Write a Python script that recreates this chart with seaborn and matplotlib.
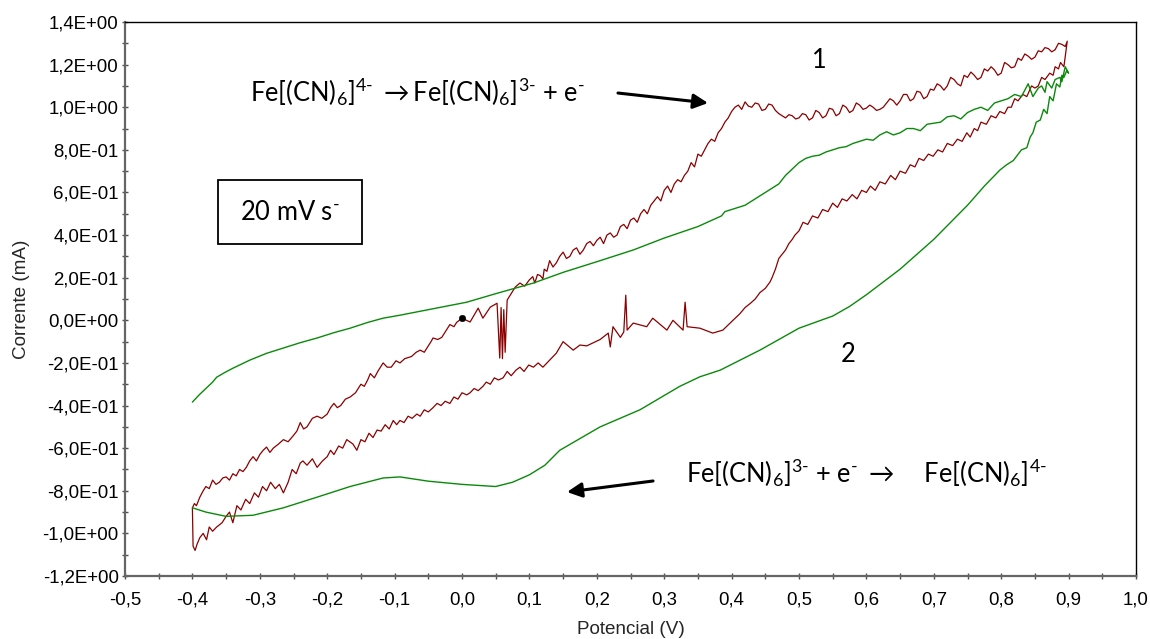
import matplotlib
matplotlib.use("Agg")
import matplotlib.pyplot as plt
import seaborn as sns
import pandas as pd
from matplotlib.ticker import FixedLocator, FuncFormatter
from matplotlib.patches import Rectangle

# ---------------- data ----------------
# curve 1 (red): starts at the black dot, forward scan to 0.9 V, back to -0.4 V, forward to 0 V
red_v = [0.000, 0.012, 0.024, 0.031, 0.042, 0.052, 0.056, 0.058, 0.060, 0.062, 0.064, 0.067,
         0.079, 0.086, 0.093,
         0.100, 0.105, 0.108, 0.112, 0.116, 0.120, 0.122, 0.126, 0.130, 0.135, 0.140, 0.145,
         0.150, 0.155, 0.160, 0.165, 0.170, 0.175, 0.180, 0.185, 0.190, 0.195, 0.200, 0.205,
         0.210, 0.215, 0.220, 0.225, 0.230, 0.235, 0.240, 0.245, 0.250, 0.255, 0.260, 0.265,
         0.270, 0.275, 0.280, 0.285, 0.290, 0.295, 0.300, 0.305, 0.310, 0.315, 0.320, 0.325,
         0.330, 0.335, 0.340, 0.345, 0.350, 0.355, 0.360, 0.365, 0.370, 0.375, 0.380, 0.385,
         0.390, 0.395, 0.400, 0.405, 0.410, 0.415, 0.420, 0.425, 0.430, 0.435, 0.440, 0.445,
         0.450, 0.455, 0.460, 0.465, 0.470, 0.475, 0.480, 0.485, 0.490, 0.495, 0.500, 0.505,
         0.510, 0.515, 0.520, 0.525, 0.530, 0.535, 0.540, 0.545, 0.550, 0.555, 0.560, 0.565,
         0.570, 0.575, 0.580, 0.585, 0.590, 0.595, 0.600, 0.605, 0.610, 0.615, 0.620, 0.625,
         0.630, 0.635, 0.640, 0.645, 0.650, 0.655, 0.660, 0.665, 0.670, 0.675, 0.680, 0.685,
         0.690, 0.695, 0.700, 0.705, 0.710, 0.715, 0.720, 0.725, 0.730, 0.735, 0.740, 0.745,
         0.750, 0.755, 0.760, 0.765, 0.770, 0.775, 0.780, 0.785, 0.790, 0.795, 0.800, 0.805,
         0.810, 0.815, 0.820, 0.825, 0.830, 0.835, 0.840, 0.845, 0.850, 0.855, 0.860, 0.865,
         0.870, 0.875, 0.880, 0.885, 0.890, 0.895, 0.898,
         0.893, 0.888, 0.885, 0.880, 0.877, 0.872, 0.865, 0.860, 0.855, 0.850, 0.845, 0.838,
         0.832, 0.825, 0.820, 0.815, 0.810, 0.805, 0.798, 0.792, 0.785, 0.778, 0.770, 0.765,
         0.760, 0.754, 0.749, 0.742, 0.735, 0.728, 0.720, 0.713, 0.706, 0.699, 0.692, 0.685,
         0.678, 0.672, 0.665, 0.658, 0.650, 0.643, 0.636, 0.628, 0.620, 0.613, 0.606, 0.600,
         0.593, 0.586, 0.579, 0.571, 0.564, 0.557, 0.550, 0.543, 0.535, 0.528, 0.520, 0.513,
         0.506, 0.500, 0.494, 0.490, 0.485, 0.480, 0.475, 0.470, 0.465, 0.460, 0.457, 0.450,
         0.442, 0.435, 0.428, 0.420, 0.412, 0.402,
         0.387, 0.372, 0.353, 0.334, 0.331, 0.328, 0.313, 0.304, 0.283, 0.274, 0.254, 0.245,
         0.243, 0.240, 0.235, 0.224, 0.220, 0.217, 0.205, 0.185, 0.175, 0.165, 0.150, 0.140,
         0.120, 0.113, 0.106, 0.099, 0.092, 0.086, 0.080, 0.073, 0.067, 0.061, 0.054, 0.048,
         0.042, 0.036, 0.031, 0.024, 0.018, 0.012, 0.007, 0.000, -0.006, -0.012, -0.018,
         -0.025, -0.031, -0.037, -0.043, -0.050, -0.056, -0.062, -0.067, -0.074, -0.080,
         -0.086, -0.092, -0.097, -0.102, -0.108, -0.114, -0.120, -0.126, -0.132, -0.138,
         -0.144, -0.150, -0.156, -0.162, -0.171, -0.177, -0.183, -0.190, -0.195, -0.200,
         -0.207, -0.215, -0.222, -0.230, -0.236, -0.240, -0.246, -0.252, -0.258, -0.265,
         -0.271, -0.277, -0.284, -0.290, -0.296, -0.302, -0.308, -0.315, -0.321, -0.328,
         -0.334, -0.340, -0.345, -0.350, -0.356, -0.364, -0.370, -0.375, -0.379, -0.384,
         -0.389, -0.393, -0.396, -0.399,
         -0.400, -0.397, -0.394, -0.389, -0.384, -0.380, -0.375, -0.370, -0.365, -0.360,
         -0.355, -0.350, -0.345, -0.340, -0.335, -0.330, -0.325, -0.320, -0.315, -0.310,
         -0.305, -0.300, -0.295, -0.290, -0.285, -0.280, -0.272, -0.265, -0.258, -0.250,
         -0.245, -0.240, -0.235, -0.230, -0.222, -0.215, -0.208, -0.200, -0.195, -0.190,
         -0.185, -0.180, -0.173, -0.166, -0.158, -0.150, -0.145, -0.140, -0.136, -0.130,
         -0.125, -0.121, -0.117, -0.111, -0.105, -0.098, -0.092, -0.085, -0.075, -0.068,
         -0.062, -0.056, -0.050, -0.046, -0.043, -0.036, -0.030, -0.024, -0.018, -0.012,
         -0.008, 0.000]
red_i = [0.010, -0.008, 0.057, 0.010, 0.062, 0.080, -0.177, 0.060, -0.180, 0.050, -0.150, 0.095,
         0.156, 0.175, 0.160,
         0.190, 0.205, 0.175, 0.215, 0.210, 0.195, 0.240, 0.230, 0.280, 0.250, 0.270, 0.300,
         0.320, 0.290, 0.300, 0.330, 0.340, 0.310, 0.330, 0.360, 0.370, 0.350, 0.375, 0.390,
         0.360, 0.400, 0.410, 0.390, 0.400, 0.440, 0.450, 0.430, 0.470, 0.480, 0.460, 0.500,
         0.520, 0.500, 0.540, 0.560, 0.580, 0.560, 0.610, 0.630, 0.600, 0.640, 0.660, 0.650,
         0.680, 0.700, 0.740, 0.720, 0.780, 0.770, 0.800, 0.830, 0.850, 0.840, 0.880, 0.900,
         0.930, 0.950, 0.980, 1.000, 1.010, 0.990, 1.025, 1.005, 1.000, 1.020, 1.015, 0.985,
         0.990, 1.015, 1.010, 0.985, 0.970, 0.960, 0.950, 0.965, 0.960, 0.945, 0.950, 0.970,
         0.965, 0.940, 0.950, 0.985, 0.975, 0.950, 0.960, 0.995, 0.990, 0.960, 0.970, 1.010,
         1.000, 0.975, 0.985, 1.020, 1.010, 0.990, 0.996, 1.010, 1.000, 0.985, 0.990, 1.000,
         1.020, 1.040, 1.030, 1.010, 1.030, 1.060, 1.060, 1.030, 1.040, 1.075, 1.070, 1.040,
         1.050, 1.085, 1.080, 1.110, 1.100, 1.080, 1.100, 1.140, 1.130, 1.110, 1.100, 1.150,
         1.140, 1.165, 1.150, 1.130, 1.140, 1.180, 1.170, 1.190, 1.175, 1.150, 1.160, 1.210,
         1.200, 1.185, 1.190, 1.230, 1.220, 1.250, 1.240, 1.225, 1.235, 1.265, 1.260, 1.280,
         1.275, 1.260, 1.270, 1.300, 1.295, 1.285, 1.310,
         1.190, 1.210, 1.180, 1.190, 1.150, 1.160, 1.130, 1.140, 1.100, 1.090, 1.100, 1.050,
         1.060, 1.030, 1.040, 1.000, 1.000, 0.970, 0.980, 0.950, 0.960, 0.920, 0.930, 0.890,
         0.900, 0.860, 0.880, 0.840, 0.850, 0.820, 0.830, 0.790, 0.800, 0.770, 0.780, 0.750,
         0.760, 0.720, 0.730, 0.690, 0.700, 0.660, 0.680, 0.640, 0.650, 0.610, 0.630, 0.600,
         0.610, 0.570, 0.590, 0.560, 0.570, 0.530, 0.550, 0.510, 0.520, 0.480, 0.490, 0.450,
         0.460, 0.420, 0.400, 0.380, 0.360, 0.330, 0.310, 0.290, 0.240, 0.200, 0.180, 0.150,
         0.130, 0.100, 0.080, 0.060, 0.030, 0.000,
         -0.046, -0.060, -0.037, -0.030, 0.085, -0.046, 0.000, -0.046, 0.010, -0.030, -0.013, -0.046,
         0.118, -0.055, -0.080, -0.030, -0.125, -0.060, -0.090, -0.120, -0.116, -0.140, -0.100, -0.154,
         -0.220, -0.200, -0.220, -0.210, -0.240, -0.220, -0.234, -0.260, -0.240, -0.270, -0.280, -0.270,
         -0.300, -0.290, -0.310, -0.330, -0.320, -0.340, -0.350, -0.340, -0.370, -0.360, -0.390,
         -0.380, -0.400, -0.390, -0.410, -0.430, -0.420, -0.450, -0.440, -0.460, -0.450,
         -0.480, -0.470, -0.490, -0.470, -0.510, -0.490, -0.520, -0.515, -0.550, -0.530,
         -0.570, -0.560, -0.610, -0.580, -0.560, -0.600, -0.590, -0.630, -0.610, -0.640,
         -0.660, -0.690, -0.650, -0.680, -0.660, -0.670, -0.720, -0.700, -0.760, -0.810,
         -0.770, -0.790, -0.760, -0.800, -0.780, -0.830, -0.810, -0.860, -0.840, -0.890,
         -0.870, -0.950, -0.900, -0.920, -0.950, -0.970, -0.990, -0.970, -1.030, -1.000,
         -1.020, -1.050, -1.080, -1.060,
         -0.880, -0.860, -0.870, -0.830, -0.800, -0.780, -0.790, -0.750, -0.770, -0.760,
         -0.740, -0.735, -0.750, -0.720, -0.730, -0.700, -0.710, -0.690, -0.660, -0.640,
         -0.660, -0.630, -0.610, -0.595, -0.620, -0.600, -0.580, -0.560, -0.570, -0.540,
         -0.520, -0.480, -0.510, -0.500, -0.460, -0.450, -0.460, -0.440, -0.410, -0.390,
         -0.410, -0.400, -0.370, -0.360, -0.340, -0.300, -0.310, -0.280, -0.250, -0.270,
         -0.240, -0.220, -0.200, -0.220, -0.220, -0.190, -0.200, -0.180, -0.170, -0.150,
         -0.140, -0.150, -0.120, -0.100, -0.083, -0.090, -0.080, -0.050, -0.020, -0.030,
         -0.010, 0.010]

# curve 2 (green): forward scan from -0.4 V to 0.9 V, then back to -0.4 V
green_v = [-0.400, -0.390, -0.380, -0.370, -0.364, -0.352, -0.340, -0.315, -0.290, -0.265,
           -0.240, -0.215, -0.190, -0.166, -0.140, -0.117, -0.092, -0.050, 0.007, 0.050,
           0.106, 0.150, 0.205, 0.254, 0.300, 0.350, 0.385, 0.390, 0.420, 0.450, 0.470, 0.480,
           0.500, 0.510, 0.520, 0.530, 0.540, 0.550, 0.560, 0.570, 0.580, 0.590, 0.600, 0.610,
           0.620, 0.630, 0.640, 0.650, 0.660, 0.670, 0.680, 0.690, 0.700, 0.710, 0.720, 0.730,
           0.740, 0.750, 0.760, 0.770, 0.780, 0.790, 0.800, 0.810, 0.820, 0.830, 0.840, 0.847,
           0.855, 0.860, 0.865, 0.868, 0.875, 0.880, 0.887, 0.890, 0.895, 0.900,
           0.897, 0.893, 0.890, 0.887, 0.882, 0.877, 0.872, 0.868, 0.863, 0.858, 0.852, 0.847,
           0.843, 0.838, 0.830, 0.818, 0.808, 0.798, 0.775, 0.750, 0.725, 0.700, 0.675, 0.650,
           0.625, 0.600, 0.575, 0.550, 0.500, 0.442, 0.383, 0.353, 0.323, 0.264, 0.205, 0.145,
           0.123, 0.100, 0.075, 0.050, 0.025, 0.000, -0.050, -0.092, -0.117, -0.166, -0.215,
           -0.265, -0.310, -0.350, -0.380, -0.400]
green_i = [-0.384, -0.350, -0.320, -0.290, -0.267, -0.245, -0.225, -0.187, -0.155, -0.130,
           -0.105, -0.083, -0.058, -0.037, -0.010, 0.010, 0.024, 0.050, 0.085, 0.125,
           0.175, 0.225, 0.280, 0.330, 0.386, 0.440, 0.490, 0.510, 0.540, 0.600, 0.640, 0.680,
           0.740, 0.760, 0.770, 0.775, 0.790, 0.800, 0.810, 0.815, 0.830, 0.840, 0.850, 0.845,
           0.870, 0.885, 0.870, 0.880, 0.900, 0.900, 0.890, 0.920, 0.925, 0.930, 0.955, 0.960,
           0.945, 0.975, 0.990, 1.000, 0.985, 1.020, 1.030, 1.040, 1.060, 1.050, 1.110, 1.050,
           1.090, 1.100, 1.070, 1.120, 1.090, 1.130, 1.140, 1.120, 1.190, 1.160,
           1.170, 1.140, 1.150, 1.095, 1.110, 1.030, 1.050, 0.970, 0.990, 0.940, 0.930, 0.880,
           0.860, 0.810, 0.800, 0.750, 0.730, 0.705, 0.630, 0.540, 0.460, 0.380, 0.310, 0.240,
           0.180, 0.120, 0.065, 0.020, -0.037, -0.140, -0.234, -0.265, -0.310, -0.420, -0.500, -0.610,
           -0.680, -0.725, -0.760, -0.780, -0.775, -0.770, -0.755, -0.735, -0.740, -0.780, -0.830,
           -0.880, -0.915, -0.920, -0.900, -0.880]

start_v = [0.0]
start_i = [0.01]

x_ticks = [-0.5, -0.4, -0.3, -0.2, -0.1, 0.0, 0.1, 0.2, 0.3, 0.4, 0.5, 0.6, 0.7, 0.8, 0.9, 1.0]
y_ticks = [-1.2, -1.0, -0.8, -0.6, -0.4, -0.2, 0.0, 0.2, 0.4, 0.6, 0.8, 1.0, 1.2, 1.4]

label_up = r"Fe[(CN)$_6$]$^{4\text{-}}$ $\rightarrow$Fe[(CN)$_6$]$^{3\text{-}}$ + e$^{\text{-}}$"
label_down = r"Fe[(CN)$_6$]$^{3\text{-}}$ + e$^{\text{-}}$ $\rightarrow$    Fe[(CN)$_6$]$^{4\text{-}}$"
label_rate = r"20 mV s$^{\text{-}}$"

# ---------------- style ----------------
sns.set_theme(style="white")
plt.rcParams['font.family'] = ['Liberation Sans', 'DejaVu Sans']
plt.rcParams['mathtext.fontset'] = 'custom'
plt.rcParams['mathtext.rm'] = 'Lato'
plt.rcParams['mathtext.it'] = 'Lato:italic'
plt.rcParams['mathtext.bf'] = 'Lato:bold'
plt.rcParams['mathtext.default'] = 'regular'

fig = plt.figure(figsize=(11.5, 6.39), dpi=100)
ax = fig.add_axes([0.10870, 0.09859, 0.87913, 0.86698])

df_red = pd.DataFrame({"v": red_v, "i": red_i})
df_green = pd.DataFrame({"v": green_v, "i": green_i})
sns.lineplot(data=df_red, x="v", y="i", sort=False, estimator=None, color="#8B0000", lw=0.9, ax=ax)
sns.lineplot(data=df_green, x="v", y="i", sort=False, estimator=None, color="#0a8a0a", lw=1.0, ax=ax)
sns.scatterplot(x=start_v, y=start_i, color="black", s=22, edgecolor="black", zorder=5, ax=ax)

ax.set_xlim(-0.5, 1.0)
ax.set_ylim(-1.2, 1.4)

ax.xaxis.set_major_locator(FixedLocator(x_ticks))
ax.yaxis.set_major_locator(FixedLocator(y_ticks))
ax.xaxis.set_minor_locator(FixedLocator([t + 0.05 for t in x_ticks[:-1]]))
ax.yaxis.set_minor_locator(FixedLocator([t + 0.1 for t in y_ticks[:-1]]))
ax.xaxis.set_major_formatter(FuncFormatter(lambda v, _: f"{round(v, 6) + 0.0:.1f}".replace('.', ',')))
ax.yaxis.set_major_formatter(FuncFormatter(lambda v, _: f"{round(v, 6) + 0.0:.1E}".replace('.', ',')))

ax.tick_params(axis='both', which='both', direction='inout', length=5, width=1, color='#505050',
               labelsize=13.4, labelcolor='black')
ax.tick_params(axis='x', which='both', bottom=True, pad=9)
ax.tick_params(axis='y', which='both', left=True, pad=2)

for side in ['left', 'bottom']:
    ax.spines[side].set_color('#666666')
    ax.spines[side].set_linewidth(1.6)
for side in ['top', 'right']:
    ax.spines[side].set_color('black')
    ax.spines[side].set_linewidth(1.0)

ax.set_xlabel("Potencial (V)", fontsize=13.6, labelpad=9)
ax.set_ylabel("Corrente (mA)", fontsize=13.6, labelpad=9)

# ---------------- annotations ----------------
tfont = dict(family=['Lato', 'DejaVu Sans'], fontsize=18.4, color='black')
ax.text(0.1236, 0.856, label_up, transform=ax.transAxes, ha='left', va='baseline', **tfont)
ax.text(0.555, 0.168, label_down, transform=ax.transAxes, ha='left', va='baseline', **tfont)
ax.text(0.687, 0.931, "1", transform=ax.transAxes, ha='center', va='center', **tfont)
ax.text(0.715, 0.399, "2", transform=ax.transAxes, ha='center', va='center', **tfont)

ax.add_patch(Rectangle((0.092, 0.599), 0.1424, 0.1155, transform=ax.transAxes,
                       fill=False, edgecolor='black', lw=1.3, zorder=6))
ax.text(0.163, 0.657, label_rate, transform=ax.transAxes, ha='center', va='center', **tfont)

arrow_kw = dict(arrowstyle='-|>', lw=2.2, color='black', mutation_scale=22, shrinkA=0, shrinkB=0)
ax.annotate("", xy=(0.5767, 0.8538), xytext=(0.4876, 0.8718),
            xycoords='axes fraction', textcoords='axes fraction', arrowprops=arrow_kw)
ax.annotate("", xy=(0.4372, 0.1516), xytext=(0.5223, 0.1715),
            xycoords='axes fraction', textcoords='axes fraction', arrowprops=arrow_kw)

fig.savefig("out.png", dpi=100)
